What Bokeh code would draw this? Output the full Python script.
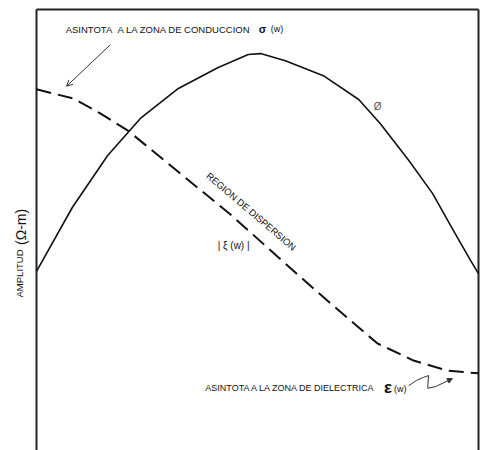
import math
from bokeh.plotting import figure
from bokeh.models import Label, Arrow, OpenHead, NormalHead, Range1d
from bokeh.embed import file_html
from bokeh.resources import INLINE

# ---- data (normalised frequency axis 0-100, amplitude 0-100) ----
phase_x = [0, 8.1, 16.1, 23.5, 32.1, 41.0, 47.9, 50.7, 56.3, 64.9, 72.9, 77.8, 84.2, 89.6, 94.3, 98.2, 100]
phase_y = [40.6, 55.1, 66.9, 75.3, 82.1, 86.8, 89.8, 90.0, 88.4, 85.0, 79.6, 74.1, 65.8, 58.3, 49.9, 43.1, 40.1]

amp_x = [0, 8.4, 14.5, 20.6, 43.9, 54.5, 62.7, 71.0, 77.1, 85.3, 93.0, 100]
amp_y = [81.9, 79.8, 76.4, 72.6, 53.5, 44.0, 36.7, 29.5, 24.3, 20.4, 18.1, 17.5]

squiggle_x = [84.2, 86.0, 87.6, 88.7, 88.5, 90.3]
squiggle_y = [14.7, 15.9, 16.6, 17.0, 14.1, 14.5]

FONT = "Liberation Sans"
INK = "#111111"

# the frame covers the whole canvas; the drawn box sits inside it
p = figure(width=486, height=450, output_backend="svg", toolbar_location=None,
           x_axis_type=None, y_axis_type=None,
           x_range=Range1d(-36 / 4.42, 100 + 8 / 4.42),
           y_range=Range1d(0, 100 + 9 / 4.41),
           min_border_left=0, min_border_right=0, min_border_top=0, min_border_bottom=0)
p.grid.visible = False
p.outline_line_color = None
p.background_fill_color = "white"
p.border_fill_color = "white"

# box: left, right, top sides
p.segment(x0=[0, 100, 0], y0=[0, 0, 100], x1=[0, 100, 100], y1=[100, 100, 100],
          line_color="#222222", line_width=2)

# curves
p.line(phase_x, phase_y, line_color=INK, line_width=1.6)
p.line(amp_x, amp_y, line_color=INK, line_width=2, line_dash="15 7")

# texts
def lab(x, y, t, size, **kw):
    opts = dict(text_font=FONT, text_font_size=f"{size}px", text_color=INK,
                text_align="left", text_baseline="middle")
    opts.update(kw)
    p.add_layout(Label(x=x, y=y, text=t, **opts))

lab(6.6, 95.5, "ASINTOTA\u00a0\u00a0A LA ZONA DE CONDUCCION", 9.5)
lab(50.3, 95.6, "σ", 11, text_font_style="bold")
lab(53.0, 95.5, "(w)", 9)
lab(76.3, 78.0, "Ø", 10, text_color="#555555")
lab(48.6, 54.2, "REGION DE DISPERSION", 9.5, text_align="center", angle=-0.705)
lab(44.6, 46.5, "| ξ (w) |", 10, text_align="center")
lab(38.2, 14.1, "ASINTOTA A LA ZONA DE DIELECTRICA", 9)
lab(78.6, 14.3, "ε", 17, text_font_style="bold")
lab(80.9, 14.0, "(w)", 9)

# y-axis label
lab(-3.85, 34.7, "AMPLITUD", 9.5, angle=math.pi / 2)
lab(-3.5, 46.6, "(Ω-m)", 14, angle=math.pi / 2)

# arrows
p.add_layout(Arrow(x_start=16.7, y_start=92.0, x_end=6.8, y_end=82.6,
                   line_color="#333333", line_width=1,
                   end=OpenHead(size=6, line_color="#333333", line_width=1)))
p.line(squiggle_x, squiggle_y, line_color="#333333", line_width=1)
p.add_layout(Arrow(x_start=90.3, y_start=14.5, x_end=94.1, y_end=16.3,
                   line_color="#333333", line_width=1,
                   end=NormalHead(size=5, line_color="#333333", fill_color="#333333")))

open("out.html", "w").write(file_html(p, INLINE))
